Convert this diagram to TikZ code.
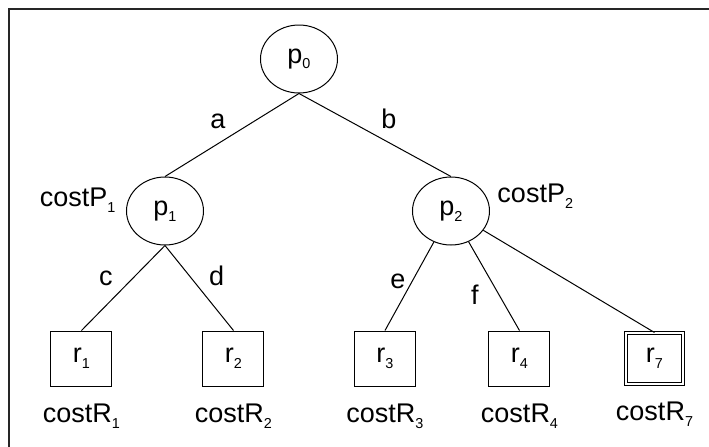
\documentclass[tikz,border=0pt]{standalone}
\usepackage{fontspec}
\setmainfont{Liberation Sans}
\usepackage{tikz}
\usetikzlibrary{positioning}
\usetikzlibrary{shapes.geometric}
\newcommand{\idx}[1]{\raisebox{-2.8pt}{\fontsize{7.2}{8}\selectfont #1}}
\tikzstyle{pnode} = [ellipse, draw=black, minimum width=38.5pt, minimum height=34pt, inner sep=0pt, font=\fontsize{13.5}{15}\selectfont]
\tikzstyle{rnode} = [rectangle, draw=black, minimum width=30.5pt, minimum height=27.5pt, inner sep=0pt, font=\fontsize{13.5}{15}\selectfont]
\tikzstyle{rfinal} = [rnode, double, double distance=1pt, minimum width=28.5pt, minimum height=25.5pt]
\tikzstyle{cost} = [inner sep=0pt, font=\fontsize{13.5}{15}\selectfont]
\tikzstyle{lbl} = [inner sep=3pt, font=\fontsize{13.5}{15}\selectfont]
\tikzstyle{line} = [line width=0.5pt]
\tikzstyle{frame} = [line width=0.7pt, draw=black!85]

\begin{document}
\begin{tikzpicture}[line width=0.5pt]
    \useasboundingbox (-149.5pt,29.5pt) rectangle (205pt,-193.5pt);
    \draw[frame] (-145pt,-200pt) |- (212pt,25pt);
    \node(p0)[pnode] at (0,0) {p\idx{0}};
    \node(p1)[pnode, on grid, below left=76pt and 67pt of p0] {p\idx{1}};
    \node(p2)[pnode, on grid, below right=76pt and 76pt of p0] {p\idx{2}};
    \node(r1)[rnode, on grid, below left=73.75pt and 41.75pt of p1] {r\idx{1}};
    \node(r2)[rnode, on grid, below right=73.75pt and 34.25pt of p1] {r\idx{2}};
    \node(r3)[rnode, on grid, below left=73.75pt and 33pt of p2] {r\idx{3}};
    \node(r4)[rnode, on grid, below right=73.75pt and 34.25pt of p2] {r\idx{4}};
    \node(r7)[rfinal, on grid, below right=73.75pt and 101.75pt of p2] {r\idx{7}};
    % costs next to the nodes
    \node(cp1)[cost, left=5pt of p1, yshift=5.5pt] {costP\idx{1}};
    \node(cp2)[cost, right=3.5pt of p2, yshift=7.5pt] {costP\idx{2}};
    \node(cr1)[cost, below=8.5pt of r1] {costR\idx{1}};
    \node(cr2)[cost, below=8.5pt of r2] {costR\idx{2}};
    \node(cr3)[cost, below=8.5pt of r3] {costR\idx{3}};
    \node(cr4)[cost, below=8.5pt of r4] {costR\idx{4}};
    \node(cr7)[cost, below=8.5pt of r7] {costR\idx{7}};
    % edges
    \draw[line](p0.south)--node(la)[lbl, above left] {a} (p1.north);
    \draw[line](p0.south)--node(lb)[lbl, above right] {b} (p2.north);
    \draw[line](p1.south)--node(lc)[lbl, above left, pos=0.55] {c} (r1.north);
    \draw[line](p1.south)--node(ld)[lbl, above right, pos=0.55] {d} (r2.north);
    \draw[line](p2)--node(le)[lbl, left, pos=0.45] {e} (r3.north);
    \draw[line](p2)--node(lf)[lbl, left=7pt, pos=0.6] {f} (r4.north);
    \draw[line](p2)--(r7.north);
  \end{tikzpicture}
\end{document}
